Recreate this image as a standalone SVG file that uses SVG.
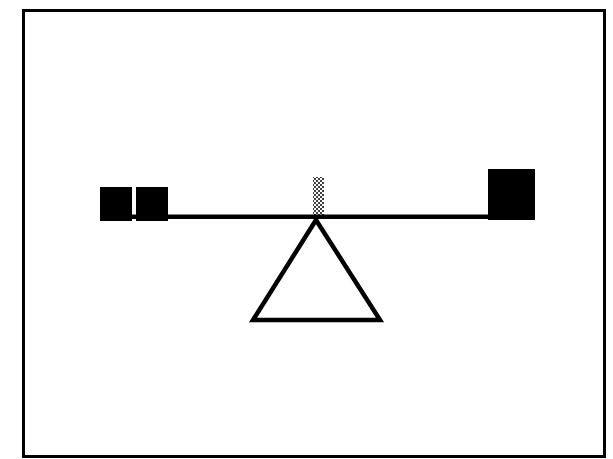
<svg xmlns="http://www.w3.org/2000/svg" width="613" height="459" viewBox="0 0 613 459">
<defs>
<pattern id="stip" width="4" height="4" patternUnits="userSpaceOnUse">
<rect x="0" y="0" width="2" height="2" fill="#000"/>
<rect x="2" y="2" width="2" height="2" fill="#000"/>
</pattern>
<style>
.blk{fill:#000}
.ln{fill:none;stroke:#000}
</style>
</defs>
<rect width="613" height="459" fill="#fff"/>
<g id="frame"><rect class="ln" x="23.5" y="10.5" width="581" height="446" stroke-width="3"/></g>
<g id="beam"><rect class="blk" x="130" y="214.5" width="360" height="4.5"/></g>
<g id="weight-left-1"><rect class="blk" x="100" y="187" width="32" height="34"/></g>
<g id="weight-left-2"><rect class="blk" x="136" y="187" width="32" height="34"/></g>
<g id="weight-right"><rect class="blk" x="488" y="169" width="47" height="51"/></g>
<g id="pointer"><rect x="313" y="177" width="11" height="40" fill="url(#stip)" opacity="0.75"/></g>
<g id="fulcrum"><polygon class="ln" points="316,220 253,320 380,320" stroke-width="4.5" stroke-linejoin="miter"/></g>
</svg>
